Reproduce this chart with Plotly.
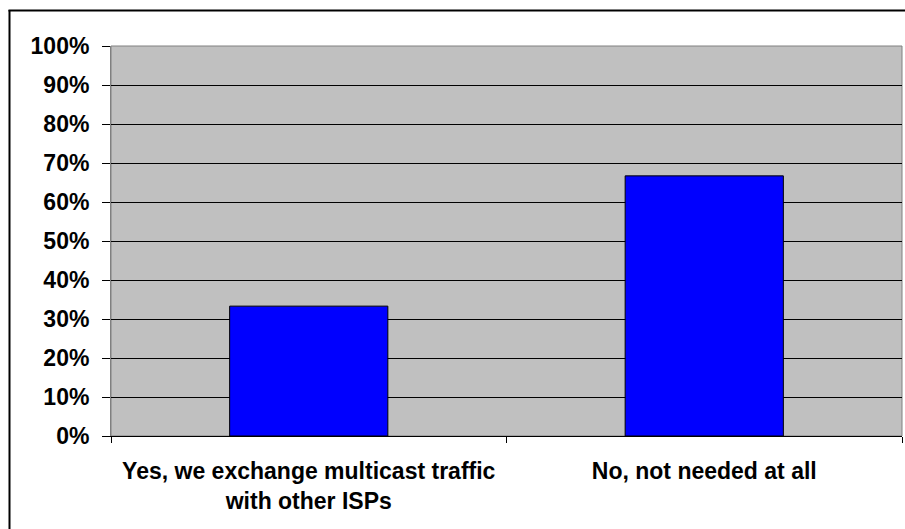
import plotly.graph_objects as go

categories = ["Yes, we exchange multicast traffic<br>with other ISPs", "No, not needed at all"]
values = [0.333, 0.667]
y_ticks = [i / 10 for i in range(11)]
y_tick_labels = [f"{i*10}%" for i in range(11)]

W, H = 905, 529
L, R, T, B = 111, 3, 46, 93
pw = W - L - R
ph = H - T - B

fig = go.Figure()
fig.add_trace(go.Bar(
    x=categories, y=values, width=0.4,
    marker=dict(color="#0000FF", line=dict(color="black", width=1)),
))

def px_x(x):
    return (x - L) / pw

def px_y(y):
    return 1 - (y - T) / ph

shapes = [
    # plot area border (grey)
    dict(type="rect", xref="paper", yref="paper", x0=0, x1=1, y0=0, y1=1,
         line=dict(color="#808080", width=1), layer="below"),
    # outer chart border (left and top visible)
    dict(type="line", xref="paper", yref="paper", x0=px_x(9.5), x1=px_x(9.5),
         y0=px_y(10), y1=px_y(H + 5), line=dict(color="black", width=2)),
    dict(type="line", xref="paper", yref="paper", x0=px_x(8.5), x1=px_x(W + 5),
         y0=px_y(10.5), y1=px_y(10.5), line=dict(color="black", width=2)),
]

fig.update_layout(
    width=W, height=H,
    margin=dict(l=L, r=R, t=T, b=B, pad=0),
    paper_bgcolor="white",
    plot_bgcolor="#C0C0C0",
    showlegend=False,
    font=dict(family="Liberation Sans, Arial, sans-serif", size=23, color="black"),
    shapes=shapes,
    bargap=0.6,
)
fig.update_yaxes(
    range=[0, 1], tickvals=y_ticks, ticktext=y_tick_labels,
    showgrid=True, gridcolor="black", gridwidth=1,
    ticks="outside", ticklen=8, tickcolor="black", tickwidth=1,
    showline=True, linecolor="#808080", linewidth=1,
    tickfont=dict(size=23, weight="bold"), ticklabelstandoff=8,
    zeroline=False, fixedrange=True,
)
fig.update_xaxes(
    tickson="boundaries", ticks="outside", ticklen=6, tickcolor="black",
    showline=True, linecolor="black", linewidth=1,
    tickfont=dict(size=23, weight="bold"), ticklabelstandoff=14,
    showgrid=False, fixedrange=True,
)

fig.write_html("out.html")
